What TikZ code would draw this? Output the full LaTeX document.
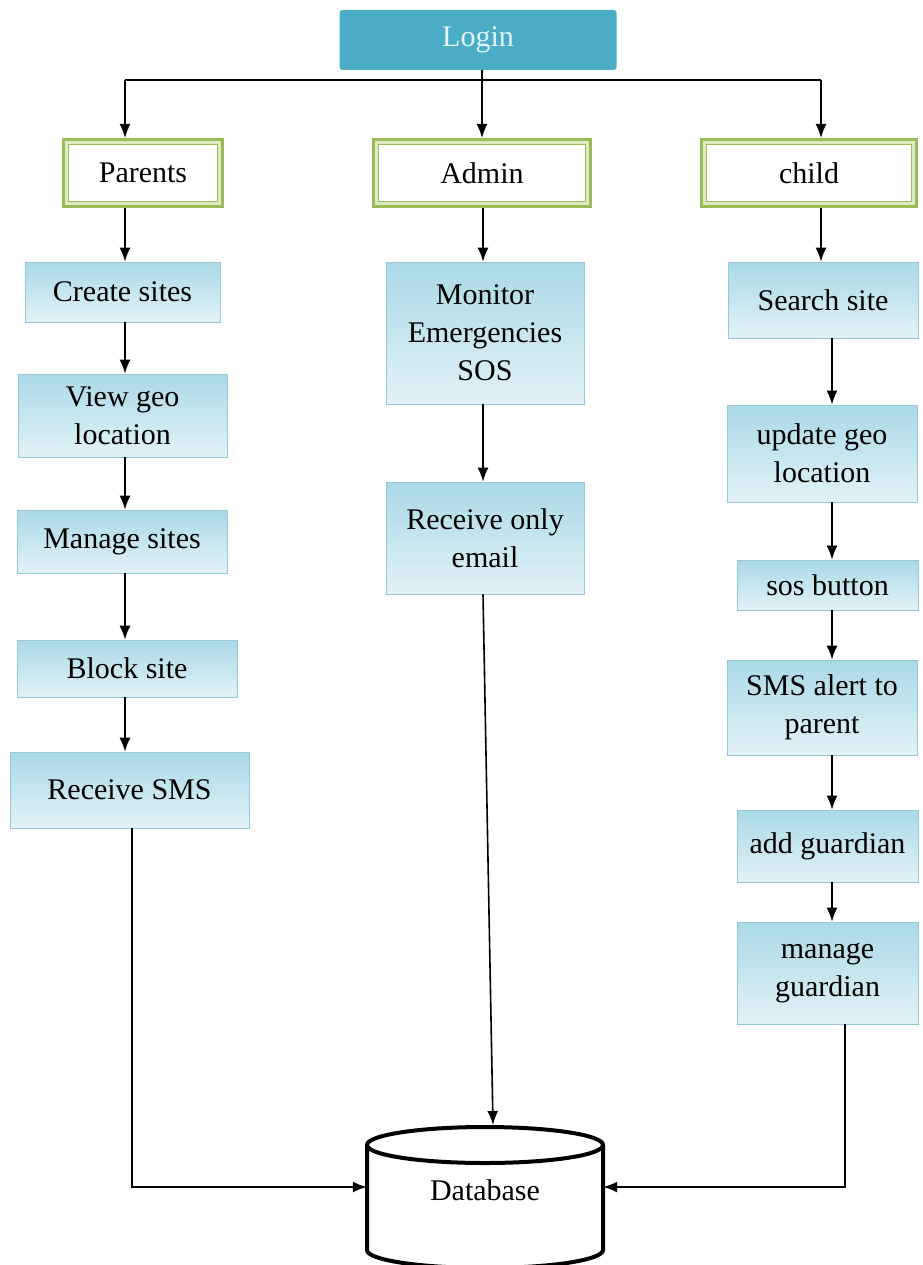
\documentclass[tikz,border=0pt]{standalone}
\usepackage{fontspec}
\setmainfont{Liberation Serif}
\usetikzlibrary{arrows.meta}
\definecolor{loginc}{RGB}{75,172,198}
\definecolor{logintext}{RGB}{225,245,250}
\definecolor{rolegreen}{RGB}{155,187,89}
\definecolor{rolepale}{RGB}{222,234,195}
\definecolor{boxtop}{RGB}{170,217,230}
\definecolor{boxbot}{RGB}{226,242,247}
\definecolor{boxedge}{RGB}{150,200,215}
\begin{document}
\begin{tikzpicture}[x=1pt,y=-1pt,
  every node/.style={font=\fontsize{30}{38}\selectfont, align=center, inner sep=0pt},
  loginbox/.style={fill=loginc, rounded corners=3pt, text=logintext, minimum width=277pt, minimum height=60pt},
  rolebox/.style={draw=rolegreen, line width=6pt, fill=white, minimum height=64pt},
  stepbox/.style={draw=boxedge, line width=0.8pt, top color=boxtop, bottom color=boxbot},
  arr/.style={-{Latex[length=14pt,width=11pt]}, line width=1.6pt},
  plain/.style={line width=1.6pt},
  dbline/.style={line width=4pt}]
\path[fill=white] (0,0) rectangle (922,1265);
\useasboundingbox (0,0) rectangle (922,1265);

% top
\node[loginbox] (login) at (478,40) {Login};
\node[rolebox, minimum width=156pt] (parents) at (143,173) {Parents};
\node[rolebox, minimum width=214pt] (admin) at (482,173) {Admin};
\node[rolebox, minimum width=212pt] (child) at (809,173) {child};
\foreach \n in {parents,admin,child}{
  \draw[rolepale, line width=2.5pt] ([xshift=4.5pt,yshift=-4.5pt]\n.north west) rectangle ([xshift=-4.5pt,yshift=4.5pt]\n.south east);
  \draw[rolegreen, line width=1.5pt] ([xshift=6.5pt,yshift=-6.5pt]\n.north west) rectangle ([xshift=-6.5pt,yshift=6.5pt]\n.south east);
}

% parents column
\node[stepbox, minimum width=195pt, minimum height=60pt] (create) at (122.5,292) {Create sites};
\node[stepbox, minimum width=209pt, minimum height=83pt] (view) at (122.5,415.5) {View geo\\location};
\node[stepbox, minimum width=210pt, minimum height=63pt] (manage) at (122,541.5) {Manage sites};
\node[stepbox, minimum width=220pt, minimum height=57pt] (block) at (127,668.5) {Block site};
\node[stepbox, minimum width=239pt, minimum height=76pt] (recsms) at (129.5,790) {Receive SMS};

% admin column
\node[stepbox, minimum width=198pt, minimum height=142pt] (monitor) at (485,333) {Monitor\\Emergencies\\SOS};
\node[stepbox, minimum width=198pt, minimum height=112pt] (email) at (485,538) {Receive only\\email};

% child column
\node[stepbox, minimum width=190pt, minimum height=76pt] (search) at (823,300) {Search site};
\node[stepbox, minimum width=190pt, minimum height=97pt] (update) at (822,453.5) {update geo\\location};
\node[stepbox, minimum width=181pt, minimum height=50pt] (sos) at (827.5,585) {sos button};
\node[stepbox, minimum width=190pt, minimum height=95pt] (smsalert) at (822,707.5) {SMS alert to\\parent};
\node[stepbox, minimum width=181pt, minimum height=72pt] (addg) at (827.5,846) {add guardian};
\node[stepbox, minimum width=181pt, minimum height=102pt] (mang) at (827.5,973) {manage\\guardian};

% database
\node[minimum width=236pt, minimum height=126pt] (db) at (485,1190) {Database};
\draw[dbline] (367,1145) -- (367,1250) arc[start angle=180, end angle=0, x radius=118, y radius=18] -- (603,1145);
\draw[dbline] (485,1145) ellipse [x radius=118, y radius=18];

% login connectors
\coordinate (hl) at (125,80);
\coordinate (hr) at (821,80);
\coordinate (ax) at (482,80);
\draw[plain] (hl) -- (hr);
\draw[arr] (ax |- login.south) -- (admin.north);
\draw[arr] (hl) -- (hl |- parents.north);
\draw[arr] (hr) -- (hr |- child.north);

% parents chain
\coordinate (pcol) at (125,0);
\draw[arr] (parents.south -| pcol) -- (create.north -| pcol);
\draw[arr] (create.south -| pcol) -- (view.north -| pcol);
\draw[arr] (view.south -| pcol) -- (manage.north -| pcol);
\draw[arr] (manage.south -| pcol) -- (block.north -| pcol);
\draw[arr] (block.south -| pcol) -- (recsms.north -| pcol);

% admin chain
\coordinate (acol) at (483,0);
\draw[arr] (admin.south -| acol) -- (monitor.north -| acol);
\draw[arr] (monitor.south -| acol) -- (email.north -| acol);

% child chain
\coordinate (ccol) at (832,0);
\draw[arr] (child.south -| hr) -- (search.north -| hr);
\draw[arr] (search.south -| ccol) -- (update.north -| ccol);
\draw[arr] (update.south -| ccol) -- (sos.north -| ccol);
\draw[arr] (sos.south -| ccol) -- (smsalert.north -| ccol);
\draw[arr] (smsalert.south -| ccol) -- (addg.north -| ccol);
\draw[arr] (addg.south -| ccol) -- (mang.north -| ccol);

% to database
\coordinate (pl) at (132,1187);
\coordinate (pr) at (845,1187);
\coordinate (et) at (493,1125);
\draw[arr] (recsms.south -| pl) -- (pl) -- (pl -| db.west);
\draw[arr] (mang.south -| pr) -- (pr) -- (pr -| db.east);
\draw[arr] (email.south -| acol) -- (et);
\end{tikzpicture}
\end{document}
